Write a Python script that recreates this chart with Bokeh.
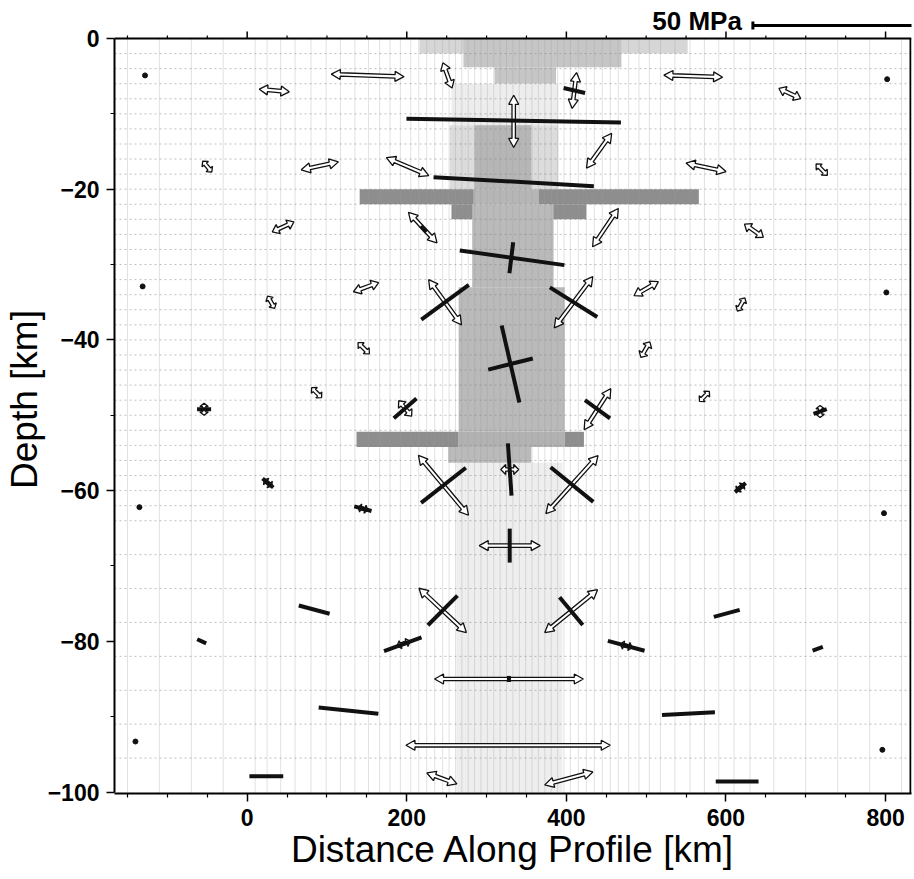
import numpy as np
from bokeh.plotting import figure
from bokeh.models import Range1d, FixedTicker
from bokeh.core.properties import value
from bokeh.embed import file_html
from bokeh.resources import INLINE

# ---------------- data ----------------
# tension (white double arrows): x [km], depth [km], magnitude [MPa], angle [deg]
T_X = [151, 34, 251, 410, 559, 680, 334, 441, 201, 91, -50, 575, 720, 220, 449, 45, 635,
       149, 500, 30, 619, 248, 409, 146, 499, 87, 573, -54, 718, 198, 439, 329, 246, 407,
       145, 26, 618, 329, 245, 406, 196, 475, 328, 327, 244, 403]
T_Y = [-4.9, -6.9, -4.9, -6.9, -5.0, -7.3, -11.0, -14.9, -17.0, -16.9, -17.0, -17.1, -17.4,
       -25.1, -25.1, -25.0, -25.5, -33.0, -33.2, -35.0, -35.3, -35.0, -35.0, -41.1, -41.3,
       -47.0, -47.5, -49.2, -49.5, -49.1, -49.2, -57.2, -59.3, -59.2, -62.4, -59.0, -59.6,
       -67.3, -75.9, -76.0, -80.3, -80.6, -85.0, -93.8, -98.2, -98.2]
T_MPA = [22.8, 9.4, 8.4, 11.3, 18.4, 7.5, 16.3, 13.4, 14.4, 11.9, 4.4, 12.8, 5.0, 13.1, 14.4,
         7.5, 7.2, 8.4, 8.8, 4.4, 4.7, 17.5, 20.0, 5.0, 5.6, 4.4, 4.4, 3.8, 3.8, 6.3, 15.3,
         5.6, 24.4, 24.4, 3.1, 3.1, 3.1, 19.1, 20.3, 21.3, 4.4, 3.8, 46.6, 64.0, 10.0, 15.6]
T_ANG = [-2, -5, -70, 83, -2, -25, 90, 54, -23, 12, -50, -12, -45, -47, 56, 25, -35, 20, 30,
         -60, 60, -54, 53, -45, 60, -45, 45, 90, 90, -50, 57, 0, -50, 48, -15, -40, 40, 0,
         -43, 39, 20, -15, 0, 0, -20, 15]

# compression (black bars): x [km], depth [km], magnitude [MPa], angle [deg]
C_X = [410, 334, 334, 332, 331, 248, 409, 330, 330, 198, 439, -54, 718, 329, 246, 407, 145,
       26, 618, 329, 245, 406, 84, 601, 195, 475, -57, 715, 328, 127, 553, 24, 614, 221]
C_Y = [-6.9, -10.9, -19.0, -29.1, -29.1, -35.0, -35.0, -43.2, -43.2, -49.1, -49.2, -49.2,
       -49.5, -57.2, -59.3, -59.2, -62.4, -59.0, -59.6, -67.3, -75.9, -76.0, -75.8, -76.3,
       -80.4, -80.6, -80.0, -81.0, -85.0, -89.2, -89.6, -97.9, -98.6, -25.3]
C_MPA = [6.9, 67.2, 50.3, 33.1, 9.7, 18.4, 17.5, 24.7, 14.4, 9.4, 9.7, 4.4, 4.4, 16.3, 17.8,
         17.2, 5.6, 4.4, 4.4, 10.6, 13.1, 11.3, 10.0, 8.4, 12.5, 11.9, 3.1, 3.4, 1.9, 18.8,
         16.6, 10.6, 13.4, 2.5]
C_ANG = [-13, -1, -3.2, -8, 83, 36, -32, -77, 14, 41, -36, 0, 20, -86, 38, -39, -15, -40, 40,
         90, 45, -50, -15, 15, 20, -15, -25, 20, 90, -6, 3, 0, 0, -47]

# negligible stress (dots)
D_X = [-128, 802, -131, 801, -135, 798, -140, 796]
D_Y = [-4.9, -5.4, -32.9, -33.7, -62.2, -63.0, -93.3, -94.4]

# shaded model blocks: left, right [km], top, bottom [km], grey level
B_L = [262, 216, 271, 310, 256, 254, 285, 141, 365, 284, 256, 379, 282, 265, 137, 398, 265, 252]
B_R = [395, 552, 469, 387, 390, 390, 356, 284, 566, 365, 284, 425, 384, 398, 265, 422, 398, 356]
B_T = [-56.3, 0, 0, -3.8, -6.0, -11.5, -11.5, -20.0, -20.0, -20.0, -22.0, -22.0, -22.0, -33.0,
       -52.2, -52.2, -52.2, -54.2]
B_B = [-100, -2.0, -3.8, -6.0, -11.5, -20.0, -20.0, -22.0, -22.0, -22.0, -24.0, -24.0, -33.0,
       -52.2, -54.2, -54.2, -54.2, -56.3]
B_C = ["#eeeeee", "#d6d6d6", "#c6c6c6", "#c6c6c6", "#ededed", "#dcdcdc", "#b6b6b6", "#8e8e8e",
       "#8e8e8e", "#b6b6b6", "#8e8e8e", "#8e8e8e", "#bababa", "#bababa", "#8e8e8e", "#8e8e8e",
       "#b2b2b2", "#bababa"]

# finite-element mesh lines
MESH_X = [-150, -110, -70, -30, 10, 25, 42, 60, 80, 99, 117, 135, 152, 166, 179, 192, 205, 215,
          225, 235, 245, 253, 261, 269, 277, 285, 293, 301, 309, 317, 325, 333, 341, 349, 357,
          365, 373, 381, 389, 397, 405, 415, 425, 435, 445, 455, 465, 478, 491, 504, 518, 536,
          555, 573, 591, 610, 630, 660, 700, 740, 780, 820]
MESH_Y = [-2, -4, -6, -8, -10, -12, -14, -16, -18, -20, -22, -24, -26, -28, -30, -32, -34, -36,
          -38, -40, -42, -44, -46, -48, -50, -52, -54, -56, -58, -60, -62, -64, -68.5, -73,
          -77.5, -82, -86.5, -91, -95.5]

X_TICKS = [0, 200, 400, 600, 800]
X_MINOR = [-150, -100, -50, 50, 100, 150, 250, 300, 350, 450, 500, 550, 650, 700, 750]
Y_TICKS = [-100, -80, -60, -40, -20, 0]
Y_MINOR = [-90, -70, -50, -30, -10]
SCALE_MPA = 50

# ---------------- layout ----------------
W, H = 914, 879
BL, BR, BT, BB = 112, 3, 5, 86
FW = W - BL - BR
FH = H - BT - BB
SX = 0.8            # px per km horizontally
SY = 7.535          # px per km vertically
X0 = -133 / SX
X1 = X0 + FW / SX
Y0 = -100 - 1.5 / SY
Y1 = Y0 + FH / SY
MPA_PX = 3.2        # px per MPa (50 MPa bar = 160 px)
FONT = "Liberation Sans"


def px_x(px):  # canvas pixel -> data x (annotation placement only)
    return X0 + (px - BL) / SX


def px_y(py):
    return Y1 - (py - BT) / SY


p = figure(width=W, height=H, x_range=Range1d(X0, X1), y_range=Range1d(Y0, Y1),
           output_backend="svg", toolbar_location=None,
           min_border_left=BL, min_border_right=BR, min_border_top=BT, min_border_bottom=BB)
p.grid.visible = False
p.outline_line_color = None

# shaded blocks
p.quad(left=B_L, right=B_R, top=B_T, bottom=B_B, fill_color=B_C, line_color=None)

# mesh
p.segment(x0=MESH_X, y0=[Y0] * len(MESH_X), x1=MESH_X, y1=[0] * len(MESH_X),
          line_color="#9a9a9a", line_alpha=0.3, line_width=1)
p.segment(x0=[X0] * len(MESH_Y), y0=MESH_Y, x1=[X1] * len(MESH_Y), y1=MESH_Y,
          line_color="#808080", line_alpha=0.5, line_width=1, line_dash="2 3")

# tension arrows as polygons
xs_all, ys_all = [], []
for x, y, m, ang in zip(T_X, T_Y, T_MPA, T_ANG):
    L = m * MPA_PX / 2.0
    hl = min(9.0, L * 0.55)
    hw = 5.0 if L > 8 else 4.2
    sw = 1.7
    a = np.radians(ang)
    pts = [(L, 0), (L - hl, hw), (L - hl, sw), (-(L - hl), sw), (-(L - hl), hw), (-L, 0),
           (-(L - hl), -hw), (-(L - hl), -sw), (L - hl, -sw), (L - hl, -hw)]
    xs, ys = [], []
    for u, v in pts:
        qx = u * np.cos(a) - v * np.sin(a)
        qy = u * np.sin(a) + v * np.cos(a)
        xs.append(x + qx / SX)
        ys.append(y + qy / SY)
    xs_all.append(xs)
    ys_all.append(ys)
p.patches(xs_all, ys_all, fill_color="white", line_color="#111111", line_width=1.3)

# compression bars
cx0, cy0, cx1, cy1 = [], [], [], []
for x, y, m, ang in zip(C_X, C_Y, C_MPA, C_ANG):
    L = m * MPA_PX / 2.0
    a = np.radians(ang)
    cx0.append(x - L * np.cos(a) / SX)
    cx1.append(x + L * np.cos(a) / SX)
    cy0.append(y - L * np.sin(a) / SY)
    cy1.append(y + L * np.sin(a) / SY)
p.segment(x0=cx0, y0=cy0, x1=cx1, y1=cy1, line_color="#111111", line_width=4, line_cap="butt")

p.scatter(D_X, D_Y, size=5, color="#111111")

# frame: top border with outward ticks, right border
p.segment(x0=[X0], y0=[0], x1=[X1], y1=[0], line_color="black", line_width=2)
p.segment(x0=X_TICKS, y0=[0] * len(X_TICKS), x1=X_TICKS, y1=[7 / SY] * len(X_TICKS),
          line_color="black", line_width=1.5)
p.segment(x0=X_MINOR, y0=[0] * len(X_MINOR), x1=X_MINOR, y1=[3 / SY] * len(X_MINOR),
          line_color="black", line_width=1.2)
p.segment(x0=[X1 - 1 / SX], y0=[Y0], x1=[X1 - 1 / SX], y1=[0], line_color="black", line_width=2)

# axes
for ax in [p.xaxis[0], p.yaxis[0]]:
    ax.axis_line_width = 2
    ax.major_tick_line_width = 1.5
    ax.minor_tick_line_width = 1.2
    ax.major_tick_out = 8
    ax.major_tick_in = 0
    ax.minor_tick_out = 4
    ax.minor_tick_in = 0
    ax.major_label_text_font = FONT
    ax.major_label_text_font_size = "23px"
    ax.major_label_text_font_style = "bold"
    ax.major_label_text_color = "black"
    ax.major_label_standoff = 7
    ax.axis_label_text_font = FONT
    ax.axis_label_text_font_size = "37px"
    ax.axis_label_text_font_style = "normal"
    ax.axis_label_text_color = "black"
    ax.axis_label_standoff = 0

p.xaxis[0].ticker = FixedTicker(ticks=X_TICKS, minor_ticks=X_MINOR)
p.yaxis[0].ticker = FixedTicker(ticks=Y_TICKS, minor_ticks=Y_MINOR)
p.yaxis[0].bounds = (-100, 0)
p.xaxis[0].axis_label = "Distance Along Profile [km]"
p.yaxis[0].axis_label = "Depth [km]"

# stress scale
p.text(x=[px_x(741)], y=[px_y(20)], text=[f"{SCALE_MPA} MPa"], text_font=value(FONT),
       text_font_size="26px", text_font_style="bold", text_align="right",
       text_baseline="middle", text_color="black")
sx0 = px_x(752)
p.segment(x0=[sx0], y0=[px_y(25)], x1=[sx0 + SCALE_MPA * MPA_PX / SX], y1=[px_y(25)],
          line_color="black", line_width=3)
p.segment(x0=[sx0], y0=[px_y(21)], x1=[sx0], y1=[px_y(29)], line_color="black", line_width=3)

open("out.html", "w").write(file_html(p, INLINE))
